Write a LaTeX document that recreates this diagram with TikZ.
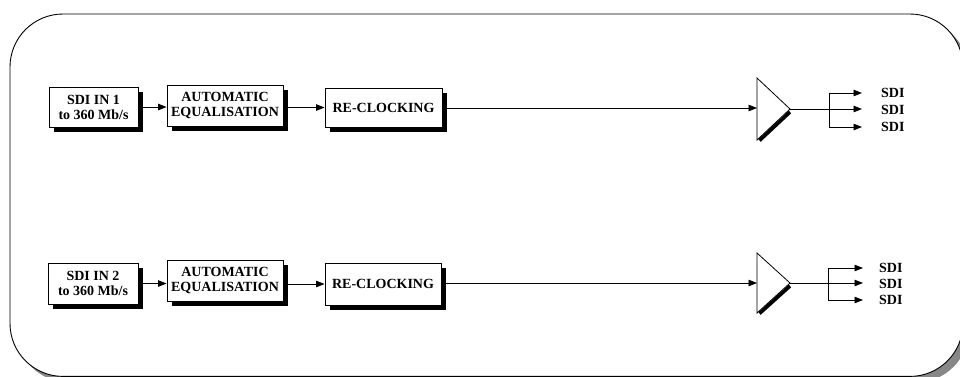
\documentclass[tikz,border=0pt]{standalone}
\usepackage{fontspec}
\setmainfont{Liberation Serif}
\usetikzlibrary{arrows.meta,shadows}
\begin{document}
\begin{tikzpicture}[x=1pt,y=-1pt,
  txt/.style={font=\fontsize{14}{15}\selectfont\bfseries},
  blk/.style={txt, draw, line width=0.9pt, fill=white, align=center, inner sep=0pt,
    drop shadow={shadow xshift=5pt, shadow yshift=-5pt, fill=black, opacity=1}},
  arr/.style={-{Triangle[length=8.5pt,width=6.5pt]}, line width=0.9pt},
  ln/.style={line width=0.9pt},
  lbl/.style={txt, inner sep=0pt, anchor=west}
]
\useasboundingbox (0,0) rectangle (960,376);
% outer frame with shadow
\fill[black!47, rounded corners=53pt] (16,20) rectangle (969,382.4);
\draw[fill=white, line width=0.9pt, rounded corners=53pt] (10,14) rectangle (963,376.4);

% ---------- row 1 ----------
\node[blk, minimum width=89pt, minimum height=40pt] (a1) at (93.5,107) {SDI IN 1\\to 360 Mb/s};
\node[blk, minimum width=116pt, minimum height=41pt] (b1) at (225,105.5) {AUTOMATIC\\EQUALISATION};
\node[blk, minimum width=117pt, minimum height=39pt] (c1) at (383.5,107.5) {RE-CLOCKING};
\coordinate (t1a) at (757,78);
\coordinate (t1b) at (757,140);
\coordinate (t1c) at (790,109);
\coordinate (t1in) at (757,108);
\coordinate (s1top) at (829,93);
\coordinate (s1mid) at (829,109);
\coordinate (s1bot) at (829,127);
\coordinate (e1top) at (862,93);
\coordinate (e1mid) at (862,109);
\coordinate (e1bot) at (862,127);
\draw[line width=0.8pt, fill=white] (t1a) -- (t1b) -- (t1c) -- cycle;
\draw[line width=3.5pt] (759.5,140.5) -- (790,112);
\draw[arr] (a1.east) -- (a1.east -| b1.west);
\draw[arr] (b1.east |- c1) -- (c1.west);
\draw[arr] (c1.east |- t1in) -- (t1in);
\draw[arr] (t1c) -- (e1mid);
\draw[ln] (s1top) -- (s1bot);
\draw[arr] (s1top) -- (e1top);
\draw[arr] (s1bot) -- (e1bot);
\node[lbl] (l1a) at (881,93) {SDI};
\node[lbl] (l1b) at (881,110) {SDI};
\node[lbl] (l1c) at (881,127) {SDI};

% ---------- row 2 ----------
\node[blk, minimum width=90pt, minimum height=41pt] (a2) at (93,283.5) {SDI IN 2\\to 360 Mb/s};
\node[blk, minimum width=116pt, minimum height=41pt] (b2) at (225,280.5) {AUTOMATIC\\EQUALISATION};
\node[blk, minimum width=116pt, minimum height=42pt] (c2) at (383,284) {RE-CLOCKING};
\coordinate (t2a) at (757,253);
\coordinate (t2b) at (757,313);
\coordinate (t2c) at (790,283);
\coordinate (t2in) at (757,283);
\coordinate (s2top) at (828,268);
\coordinate (s2bot) at (828,300);
\coordinate (e2top) at (863,268);
\coordinate (e2mid) at (863,283);
\coordinate (e2bot) at (863,300);
\draw[line width=0.8pt, fill=white] (t2a) -- (t2b) -- (t2c) -- cycle;
\draw[line width=3.5pt] (759.5,313.5) -- (790,286);
\draw[arr] (a2.east) -- (a2.east -| b2.west);
\draw[arr] (b2.east |- c2) -- (c2.west);
\draw[arr] (c2.east |- t2in) -- (t2in);
\draw[arr] (t2c) -- (e2mid);
\draw[ln] (s2top) -- (s2bot);
\draw[arr] (s2top) -- (e2top);
\draw[arr] (s2bot) -- (e2bot);
\node[lbl] (l2a) at (879,268) {SDI};
\node[lbl] (l2b) at (879,284) {SDI};
\node[lbl] (l2c) at (879,300) {SDI};
\end{tikzpicture}
\end{document}
